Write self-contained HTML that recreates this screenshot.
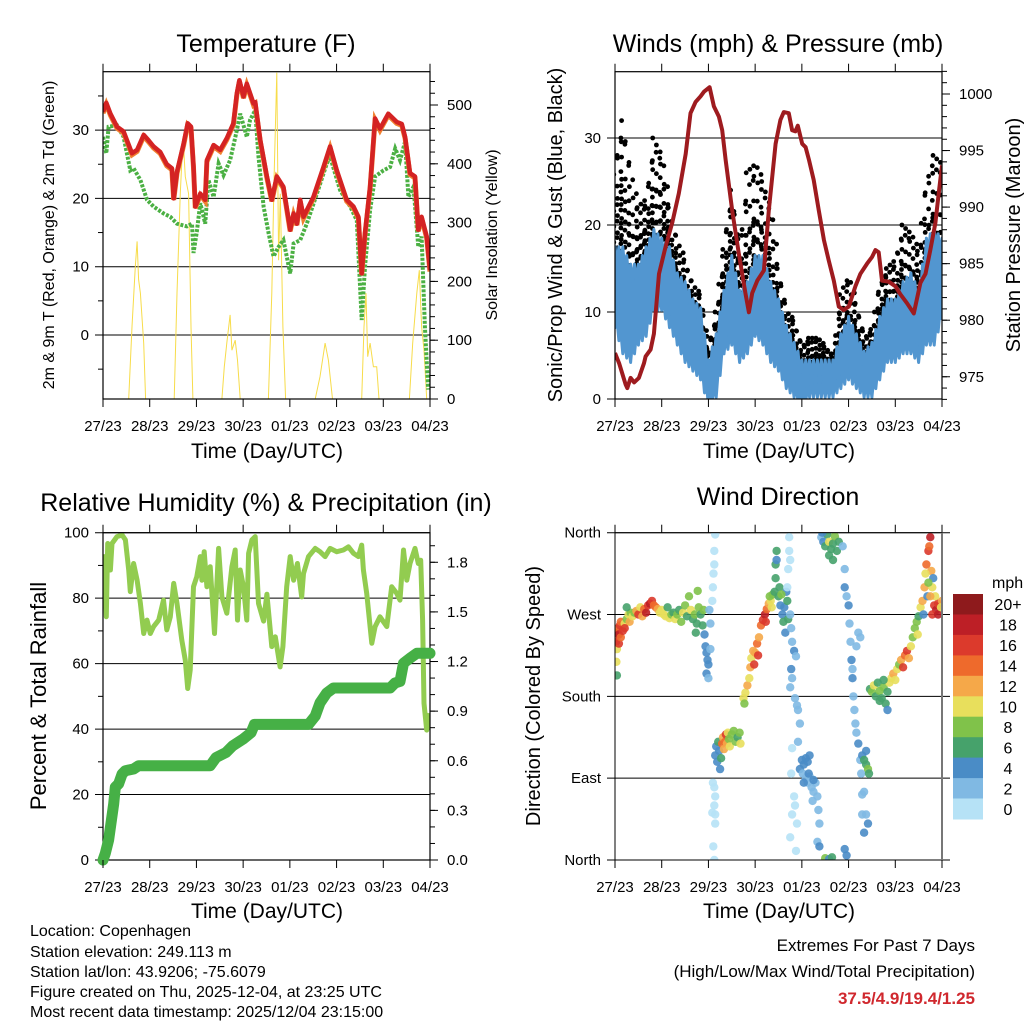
<!DOCTYPE html>
<html><head><meta charset="utf-8">
<style>
html,body{margin:0;padding:0;background:#fff;}
svg{display:block;font-family:"Liberation Sans",sans-serif;}
</style></head>
<body>
<svg id="chart" width="1024" height="1024" viewBox="0 0 1024 1024" xmlns="http://www.w3.org/2000/svg">
<rect x="0" y="0" width="1024" height="1024" fill="#fff"/>
<defs>
<clipPath id="c1"><rect x="103" y="71.7" width="327" height="327.3"/></clipPath>
<clipPath id="c2"><rect x="615" y="71.7" width="327" height="327.3"/></clipPath>
<clipPath id="c3"><rect x="103" y="532.7" width="327" height="327.3"/></clipPath>
<clipPath id="c4"><rect x="615" y="532.7" width="327" height="327.3"/></clipPath>
</defs>
<g id="layer"></g>
<text x="266" y="52" font-size="25" text-anchor="middle">Temperature (F)</text>
<text x="778" y="52" font-size="25" text-anchor="middle">Winds (mph) &amp; Pressure (mb)</text>
<text x="266" y="511" font-size="25" text-anchor="middle">Relative Humidity (%) &amp; Precipitation (in)</text>
<text x="778" y="505" font-size="25" text-anchor="middle">Wind Direction</text>
<text x="267" y="458" font-size="21" text-anchor="middle">Time (Day/UTC)</text>
<text x="779" y="458" font-size="21" text-anchor="middle">Time (Day/UTC)</text>
<text x="267" y="918" font-size="21" text-anchor="middle">Time (Day/UTC)</text>
<text x="779" y="918" font-size="21" text-anchor="middle">Time (Day/UTC)</text>
<text transform="translate(54,235) rotate(-90)" font-size="16" text-anchor="middle">2m &amp; 9m T (Red, Orange) &amp; 2m Td (Green)</text>
<text transform="translate(497,235) rotate(-90)" font-size="16" text-anchor="middle">Solar Insolation (Yellow)</text>
<text transform="translate(562,235) rotate(-90)" font-size="20" text-anchor="middle">Sonic/Prop Wind &amp; Gust (Blue, Black)</text>
<text transform="translate(1020,235) rotate(-90)" font-size="20" text-anchor="middle">Station Pressure (Maroon)</text>
<text transform="translate(46,696) rotate(-90)" font-size="22" text-anchor="middle">Percent &amp; Total Rainfall</text>
<text transform="translate(540,696) rotate(-90)" font-size="20" text-anchor="middle">Direction (Colored By Speed)</text>
<g font-size="16">
<text x="30" y="936">Location: Copenhagen</text>
<text x="30" y="957">Station elevation: 249.113 m</text>
<text x="30" y="977">Station lat/lon: 43.9206; -75.6079</text>
<text x="30" y="997">Figure created on Thu, 2025-12-04, at 23:25 UTC</text>
<text x="30" y="1017">Most recent data timestamp: 2025/12/04 23:15:00</text>
</g>
<g text-anchor="end">
<text x="975" y="951" font-size="17">Extremes For Past 7 Days</text>
<text x="975" y="977" font-size="17">(High/Low/Max Wind/Total Precipitation)</text>
<text x="975" y="1004" font-size="17" font-weight="bold" fill="#d0282e">37.5/4.9/19.4/1.25</text>
</g>
</svg>
<script>
// ---------- DATA ----------
const dayLabels=['27/23','28/23','29/23','30/23','01/23','02/23','03/23','04/23'];
const tempHours=[0,1.7,3.8,7.2,10.6,14.9,17.5,20.9,23.4,26,29.4,32.8,35.4,36.3,38,41.4,43.5,45.2,46.5,47.4,50,52.5,53.4,56.8,60.2,63.6,67,68.8,70.1,72.2,73.9,77.3,78.2,80.8,84.2,86.7,89.3,92.7,96.2,97.9,99.6,101.3,103,108.1,113.3,116.7,120.1,125.2,128.7,131.2,132.9,134.6,137.2,139.8,142.3,146.6,150.9,153.5,155.2,157.7,160.3,162,163.7,166.3,168];
const tempValues=[32.7,34,32.4,30.5,29.8,26.6,27.1,29.3,28.5,27.6,26.8,25,24.4,20,23.9,28,31,30.5,24.7,18.8,20.7,19.8,25.6,27.8,27.1,28.8,31,35.4,37.3,34.9,36.8,33.9,34.1,28.5,23.2,19.8,23.2,21.7,15.4,17.8,16.3,19.8,17.3,20.2,24.6,27.6,24.1,19.8,18.8,17.3,9,14.9,21.7,31.7,30.2,32.4,31.2,30.9,29,23.7,23.2,15.4,17.3,14.4,9.5];
const dewHours=[0,1.7,2.9,7.2,10.6,14,15.7,19.2,22.6,26,31.1,34.6,38,43.1,45.7,46.5,48.2,50,52.5,54.2,56.8,59.4,61.9,65.3,68.8,70.5,73.9,75.6,78.2,79.9,82.5,85.1,87.6,90.2,92.7,96.2,97.9,101.3,104.7,109.9,115,116.7,121.8,127,130.4,132.9,134.6,137.2,139.8,144.1,147.5,150.1,152.6,155.2,156.9,159.5,162,163.7,165.4,167.1];
const dewValues=[29,26.6,30.5,30.7,29,24.1,24.4,22.7,19.8,18.8,17.8,17.3,16.3,15.9,16.3,12,15.1,19.3,16.3,22.7,20.2,25.1,23.4,25.6,30,32.4,29,31.5,32.9,26.1,18.8,14.9,11.5,12.9,13.9,9,13.4,13.9,16.3,20.7,25.1,26.1,21.2,18.8,16.8,2.2,10,18.3,23.2,24.1,24.6,27.3,25.6,28.3,20.2,21.7,12.9,14.4,1.2,-8.0];
const solarHours=[0,13.2,14.9,16.6,17.5,18.3,19.2,20.9,21.9,36.6,38,39.7,41.1,42.3,44,45.2,46.2,61.1,62.3,63.6,65.3,66.2,67.9,69.1,70.5,85,86.7,87.9,89.3,90.2,91.1,92.4,93.8,109,111.5,114.1,115.8,117.9,132.9,134.1,135.1,136,137.2,138.9,140.6,141.8,157.4,159.1,161.2,162.5,163.7,164.9,166.3,168];
const solarValues=[0,0,123,225,268,203,180,95,0,0,180,350,446,378,349,123,0,0,55,95,143,83,100,66,0,0,180,378,555,236,349,123,0,0,38,95,66,0,0,123,180,72,95,55,55,0,0,95,180,219,123,83,0,0];
const presHours=[0,2.1,5.5,6.3,8,9.8,12.3,14.9,15.7,18.3,20,22.6,26,29.4,32.8,36.3,38.8,41.4,44,45.7,48.6,50.8,53.4,55.1,56.8,60.2,63.6,67,68.8,70.5,73.1,76.5,79,82.5,85,86.7,89.3,91,92.7,93.9,96.2,97.9,99.6,102.1,104.7,107.3,109.8,112.4,115,117.5,120.1,123.5,126.1,129.5,132.1,133.8,135.5,137.2,140.6,144.1,146.6,150,153.5,156.9,159.5,162,164.6,166.3,168];
const presValues=[977.1,976.2,974.3,974,974.9,974.5,974.9,976.2,976.8,977.4,978.8,984.1,986.5,988.6,991.2,994.7,998.3,999.3,999.8,1000.2,1000.6,998.9,998,996.8,994.2,989.7,985.9,982.4,980.7,982.4,983.5,984.4,989.7,995.6,997.7,998.4,998.3,996.8,996.7,997.2,995.6,995.3,994.2,992.4,989.7,987.1,985.3,983.5,981.2,980.9,981.2,983,984.1,985,985.6,986.2,986,983.5,983.4,983,982.3,981.5,980.6,983.3,984.1,986.2,988.6,991.2,993.7];
const windStepHours=4;
const windLo=[9,6,5,7,8,11,11,9,7,5,4,3,0,1,6,7,5,6,8,7,5,4,2,1,0,1,1,1,1,2,3,2,1,1,3,5,5,6,6,5,7,7,10];
const windHi=[17,17,15,15,17,19,18,17,14,13,11,10,4,7,12,16,12,13,16,16,13,11,8,6,4,4,4,4,4,7,9,7,5,6,9,11,11,13,14,12,18,19,18];
const gustLo=[15,17,10,14,15,17,18,14,11,9,7,6,1,3,10,13,9,10,13,12,9,7,5,3,2,2,3,2,2,4,5,4,3,3,6,9,8,10,10,9,12,13,14];
const gustHi=[27,32,26,22,23,30,28,22,18,16,13,12,6,10,18,24,17,26,27,25,22,15,10,9,6,7,7,6,5,12,14,11,7,8,13,15,16,20,19,17,25,28,27];
const rhHours=[0,0.7,1.7,2.4,3.8,4.6,7.2,9.8,11.5,13.2,14,15.7,17.5,19.2,20.9,22.6,24.3,26,28.6,31.1,32.8,34.6,36.3,38,40.5,42.3,43.5,44.8,46.5,48.2,50,50.8,52,53.4,55.1,57.3,59.4,61.1,63.6,66.2,67.9,69.1,70.5,72.2,73.9,74.8,76.5,78.2,79.9,82.5,84.2,86.7,88.5,91,92.4,94.4,96.2,97.9,99.9,102.1,103,105.6,109,111.5,114.1,116.7,120.1,123.5,126.1,128.7,131.2,132.9,133.8,135.5,138.1,139.8,142.3,145.8,148.3,150.9,152.6,154.4,156.1,157.7,160.3,162,163.2,164.2,164.9,166.3,168];
const rhValues=[83,92.7,74.3,96.7,88.6,96.7,98.8,99.3,97.8,88.6,82,90.6,85.5,78.4,69.2,73.3,69.2,71.3,73.3,79.4,70.3,74.3,84.5,78.4,67.2,61,52.4,58,83.5,86.6,92.7,85.5,94.2,83.5,89.6,69.2,95.2,80.4,75.4,89.6,94.7,73.3,88.6,83.5,73.3,93.7,97.8,98.8,78.4,73,81.2,65.2,68.2,59,65.2,83.5,92.7,85.5,90.6,80.4,87.5,92.7,95.2,94.2,92.7,95.2,94.2,94.7,95.7,93.7,92.7,96.2,88.6,81.5,66.2,71.3,74.3,71.3,83.5,81.5,79.4,94.7,85.5,90.6,95.2,90.6,91.6,73.3,47.9,39.7,44.8];
const rainHours=[0,1.2,2.9,5.5,6.3,8,9.8,11.5,15.7,18.3,55.1,58.1,63.2,66.6,71.8,76.1,77.8,105.6,109,111.5,115,118.4,147.5,150,152.6,154.4,157.7,161.2,168];
const rainValues=[0,0.04,0.12,0.34,0.44,0.46,0.52,0.54,0.55,0.57,0.57,0.62,0.65,0.69,0.73,0.77,0.82,0.82,0.87,0.95,1.01,1.04,1.04,1.07,1.08,1.19,1.22,1.25,1.25];
const dirHours=[0,0.5,1,1.5,2,2.5,3,1,2,3,4,5,6,7,7.5,8,0.7,1,5,6,
9,10,11,12,13,14,15,16,17,18,19,20,21,22,23,24,25,26,27,28,29,30,
31,32,33,34,35,36,37,38,39,40,41,42,43,42.5,41.5,44,45,45.5,
46,46.5,47,47.5,48,47,48,49,49,48.5,50,50.3,50.6,51,51,51.5,
50.3,51,51.5,51,50,51.5,50.5,51,51.5,
51.5,52,52.5,53,53.5,54,54.5,55,55.5,56,56.5,57,57.5,58,58.5,59,60,61,62,63,64,64.5,
66,66.5,67,68,69,69.5,70,71,71.5,72,73,73.5,74,75,76,77,77.5,78,79,80,79.5,80.5,
81,82,82.5,82.5,83,83,84,85,86,86.5,87,88,88.5,89,87.5,84.5,85.5,
90,90.5,91,92,93,90.5,91,92.5,90,93.5,94,95,94,91,90.5,92,92.5,91,93.5,90,93,88.5,89,89.5,89.5,90,
95,96,97,98,99,100,96.5,98,99,100,101,102,103,102,104,104.5,105,104,105,97,99.5,101.5,
106,107,108,109,110,111,112,113,114,115,110,112,106.5,108,110,111.5,
117,118,118,119,120,120.5,121,121.5,122,122.5,123,123.5,124,125,126,126.5,127,127,128,118,119,122,124,125,126,
127,128,129,130,130.5,128,129,130,129,
131,132,133,134,135,136,137,138,139,140,141,142,143,144,138,136,140,
145,146,147,148,149,150,151,152,153,154,155,156,155.5,
157,158,159,160,161,162,161.5,162.5,163,160.5,159.5,164,165,166,167,168,163,158.5,164.5,166,167.5,163.5,161,162];
const dirDegrees=[245,240,250,255,248,258,262,232,238,245,252,260,265,270,262,272,218,203,255,278,
268,272,274,270,278,268,276,272,280,282,285,280,278,276,272,275,270,268,278,266,270,272,
265,270,275,262,272,280,268,290,275,265,270,260,278,296,250,270,258,275,
248,235,228,220,215,205,200,232,260,275,285,300,315,325,340,358,
85,80,70,60,52,50,15,0,40,
115,125,108,130,120,100,112,128,135,122,130,138,128,140,133,125,138,142,130,135,140,128,
178,172,184,192,200,212,222,230,215,228,238,225,245,258,264,270,262,276,282,285,290,278,
292,295,310,325,340,330,290,280,270,262,278,295,285,265,250,300,292,
270,255,240,230,224,210,200,178,190,170,165,150,130,123,95,70,60,50,40,25,10,300,320,340,355,330,
100,110,105,112,108,115,95,90,85,92,80,75,85,88,70,55,40,20,15,85,95,65,
355,350,345,358,350,342,348,356,340,350,335,330,360,2,1,3,
345,320,300,290,280,260,240,220,200,180,165,150,140,128,110,95,72,50,30,12,5,210,235,250,245,
115,110,105,100,95,75,50,40,120,
188,185,192,180,195,186,178,190,172,185,195,200,205,198,198,175,165,
210,215,220,212,225,230,222,235,245,255,262,268,248,
278,285,300,325,340,355,345,318,300,290,315,280,275,282,280,285,270,270,290,270,278,310,305,290];
const dirSpeeds=[12,16,16,14,18,16,14,10,16,14,16,10,8,10,12,8,10,6,16,6,
10,8,12,16,10,12,14,18,16,18,16,14,14,12,10,10,10,10,6,10,8,6,
10,8,6,8,10,8,6,8,10,6,8,6,8,8,6,6,6,8,
4,4,4,4,4,4,2,2,2,2,0,0,0,0,0,0,
0,0,0,0,0,0,0,0,0,
4,4,4,6,4,4,6,14,12,12,14,16,12,10,8,10,8,8,8,6,8,10,
10,8,10,12,10,12,10,12,16,12,14,16,12,14,16,18,16,14,12,10,8,10,
8,6,6,6,6,4,6,4,4,6,4,4,6,6,4,6,8,
2,2,2,4,2,4,2,2,2,2,2,2,2,0,0,0,0,0,0,0,0,0,0,0,0,0,
4,4,4,4,4,4,2,2,2,2,2,2,2,4,2,2,2,2,4,4,4,2,
2,4,6,6,10,6,6,8,6,6,6,6,4,8,4,6,
2,2,4,2,4,2,2,4,4,2,2,2,2,4,2,2,2,2,4,4,4,2,2,2,2,
4,6,6,8,6,2,2,4,4,
6,8,10,6,6,8,6,8,6,6,10,10,12,10,6,6,4,
10,8,12,16,14,16,12,10,8,8,8,6,10,
10,12,12,14,16,18,14,12,10,4,10,16,18,16,16,12,16,4,10,18,10,4,8,12];
const colorLabels=['20+','18','16','14','12','10','8','6','4','2','0'];
const colorFills=['#8e1a1c','#bd1f26','#dc3a2c','#ee6a2c','#f5a849','#e8df5c','#80c24a','#46a26b','#4a8cc6','#80b9e3','#b6e2f6'];

// ---------- HELPERS ----------
const NS='http://www.w3.org/2000/svg';
const layer=document.getElementById('layer');
function mk(tag,parent){const e=document.createElementNS(NS,tag);(parent||layer).appendChild(e);return e;}
function line(x1,y1,x2,y2,stroke,w,parent){const e=mk('line',parent);e.setAttribute('x1',x1);e.setAttribute('y1',y1);e.setAttribute('x2',x2);e.setAttribute('y2',y2);e.setAttribute('stroke',stroke);e.setAttribute('stroke-width',w);return e;}
function txt(x,y,s,size,anchor,parent){const e=mk('text',parent);e.setAttribute('x',x);e.setAttribute('y',y);e.setAttribute('font-size',size);e.setAttribute('text-anchor',anchor);e.textContent=s;return e;}
function poly(xs,ys,fx,fy){let d='';for(let i=0;i<xs.length;i++){d+=(i?'L':'M')+fx(xs[i]).toFixed(1)+','+fy(ys[i]).toFixed(1);}return d;}
function interp(arr,t){const i=Math.floor(t),f=t-i;if(i>=arr.length-1)return arr[arr.length-1];return arr[i]*(1-f)+arr[i+1]*f;}

const P=[
 {x0:103,x1:430,y0:71.7,y1:399},
 {x0:615,x1:942,y0:71.7,y1:399},
 {x0:103,x1:430,y0:532.7,y1:860},
 {x0:615,x1:942,y0:532.7,y1:860}
];
function xs(p){return h=>p.x0+h/168*(p.x1-p.x0);}

function timeAxis(p,idx){
 const g=mk('g');
 
 
 const fx=xs(p);
 dayLabels.forEach((lab,i)=>{
  const x=fx(i*24);
  line(x,p.y1,x,p.y1+8,'#000',1,g);
  line(x,p.y0-8,x,p.y0,'#000',1,g);
  const t=txt(x,p.y1+32,lab,15,'middle',g);
  
  
 });
}
function frame(p,idx){
 const r=mk('rect');
 r.setAttribute('x',p.x0);r.setAttribute('y',p.y0);r.setAttribute('width',p.x1-p.x0);r.setAttribute('height',p.y1-p.y0);
 r.setAttribute('fill','none');r.setAttribute('stroke','#000');r.setAttribute('stroke-width','1.2');
 
 
}
function leftAxis(p,vals,labels,fy,minor,name){
 const g=mk('g');
 
 
 vals.forEach((v,i)=>{const y=fy(v);line(p.x0-8,y,p.x1,y,'#000',1,g);txt(p.x0-14,y+5,labels[i],15,'end',g);});
 minor.forEach(v=>{const y=fy(v);line(p.x0-5,y,p.x0,y,'#000',1,g);});
}
function rightAxis(p,vals,labels,fy,minor,name){
 const g=mk('g');
 
 
 vals.forEach((v,i)=>{const y=fy(v);line(p.x1,y,p.x1+8,y,'#000',1,g);txt(p.x1+17,y+5,labels[i],15,'start',g);});
 minor.forEach(v=>{const y=fy(v);if(y>=p.y0-0.5&&y<=p.y1+0.5)line(p.x1,y,p.x1+5,y,'#000',1,g);});
}
function range(a,b,s){const r=[];for(let v=a;v<=b+1e-9;v+=s)r.push(+v.toFixed(3));return r;}

// ---------- PANEL 1: TEMPERATURE ----------
{
 const p=P[0],fx=xs(p);
 const fyT=v=>335-v*6.83, fyS=s=>399-s*0.588;
 leftAxis(p,[30,20,10,0],['30','20','10','0'],fyT,[35,25,15,5,-5],'temp-left-axis');
 rightAxis(p,[0,100,200,300,400,500],['0','100','200','300','400','500'],fyS,range(0,560,20),'solar-right-axis');
 const g=mk('g');g.setAttribute('clip-path','url(#c1)');
 
 
 const s=mk('path',g);s.setAttribute('d',poly(solarHours,solarValues,fx,fyS));s.setAttribute('fill','none');s.setAttribute('stroke','#f7dc4a');s.setAttribute('stroke-width','1');
 
 
 const d=mk('path',g);d.setAttribute('d',poly(dewHours,dewValues,fx,fyT));d.setAttribute('fill','none');d.setAttribute('stroke','#4bb043');d.setAttribute('stroke-width','4');d.setAttribute('stroke-dasharray','3 1.5');
 
 
 const o=mk('path',g);o.setAttribute('d',poly(tempHours,tempValues,fx,v=>fyT(v)+1.5));o.setAttribute('fill','none');o.setAttribute('stroke','#f08030');o.setAttribute('stroke-width','5');
 
 
 const t=mk('path',g);t.setAttribute('d',poly(tempHours,tempValues,fx,fyT));t.setAttribute('fill','none');t.setAttribute('stroke','#d42323');t.setAttribute('stroke-width','4.5');t.setAttribute('stroke-linejoin','round');
 
 
 frame(p,1);timeAxis(p,1);
}
// ---------- PANEL 2: WINDS ----------
{
 const p=P[1],fx=xs(p);
 const fyW=v=>399-v*8.7, fyP=v=>94+(1000-v)*11.31;
 leftAxis(p,[30,20,10,0],['30','20','10','0'],fyW,[],'wind-left-axis');
 rightAxis(p,[975,980,985,990,995,1000],['975','980','985','990','995','1000'],fyP,range(972,1002,1),'pressure-right-axis');
 const g=mk('g');g.setAttribute('clip-path','url(#c2)');
 
 
 const n=windLo.length;
 const fr=[0,0.12,0.25,0.4,0.55,0.72,0.9,1];
 const gg=mk('g',g);
 
 
 let k=0;
 for(let t=0;t<=n-1;t+=0.2){
  const lo=interp(gustLo,t),hi=interp(gustHi,t);
  const h=t*windStepHours;
  fr.forEach((f,j)=>{
   if(j>=5 && (k+j)%2) return;
   const c=mk('circle',gg);
   c.setAttribute('cx',(fx(h)+((k*3+j*5)%5-2)*0.6).toFixed(1));
   c.setAttribute('cy',fyW(lo+(hi-lo)*f).toFixed(1));
   c.setAttribute('r','2.4');
   c.setAttribute('fill','#000');
   
   
  });
  k++;
 }
 const wp=[];const wl=[];const wt=[];
 for(let t=0;t<=n-1;t+=0.25){wt.push(t*windStepHours);wp.push(interp(windHi,t)+((Math.round(t*4))%2?-1.5:0.5));wl.push(interp(windLo,t)+((Math.round(t*4))%2?1:-0.8));}
 const d=poly(wt,wp,fx,fyW)+'L'+poly(wt.slice().reverse(),wl.slice().reverse(),fx,fyW).slice(1)+'Z';
 const wb=mk('path',g);wb.setAttribute('d',d);wb.setAttribute('fill','#5296d0');wb.setAttribute('stroke','#5296d0');wb.setAttribute('stroke-width','3');wb.setAttribute('stroke-linejoin','round');
 
 
 const pr=mk('path',g);pr.setAttribute('d',poly(presHours,presValues,fx,fyP));pr.setAttribute('fill','none');pr.setAttribute('stroke','#9e1b1f');pr.setAttribute('stroke-width','4');pr.setAttribute('stroke-linejoin','round');
 
 
 frame(p,2);timeAxis(p,2);
}
// ---------- PANEL 3: RH & RAIN ----------
{
 const p=P[2],fx=xs(p);
 const fyR=v=>860-v*3.273, fyI=v=>860-v*165.4;
 leftAxis(p,[100,80,60,40,20,0],['100','80','60','40','20','0'],fyR,[90,70,50,30,10],'humidity-left-axis');
 rightAxis(p,[0,0.3,0.6,0.9,1.2,1.5,1.8],['0.0','0.3','0.6','0.9','1.2','1.5','1.8'],fyI,range(0,1.9,0.1),'rain-right-axis');
 const g=mk('g');g.setAttribute('clip-path','url(#c3)');
 
 
 const rh=mk('path',g);rh.setAttribute('d',poly(rhHours,rhValues,fx,fyR));rh.setAttribute('fill','none');rh.setAttribute('stroke','#92cc50');rh.setAttribute('stroke-width','5');rh.setAttribute('stroke-linejoin','round');
 
 
 frame(p,3);
 const rn=mk('path');rn.setAttribute('d',poly(rainHours,rainValues,fx,fyI));rn.setAttribute('fill','none');rn.setAttribute('stroke','#46b046');rn.setAttribute('stroke-width','11');rn.setAttribute('stroke-linejoin','round');rn.setAttribute('stroke-linecap','round');
 
 
 timeAxis(p,3);
}
// ---------- PANEL 4: WIND DIRECTION ----------
{
 const p=P[3],fx=xs(p);
 const fyD=d=>860-d*(327.3/360);
 const g0=mk('g');
 
 
 [360,270,180,90,0].forEach((d,i)=>{const y=fyD(d);line(p.x0-8,y,p.x1+8,y,'#000',1,g0);txt(p.x0-14,y+5,['North','West','South','East','North'][i],15,'end',g0);});
 const g=mk('g');g.setAttribute('clip-path','url(#c4)');
 
 
 for(let i=0;i<dirHours.length;i++){
  const c=mk('circle',g);
  const idx=Math.max(0,Math.min(10,10-Math.floor(dirSpeeds[i]/2)));
  c.setAttribute('cx',fx(dirHours[i]).toFixed(1));c.setAttribute('cy',fyD(dirDegrees[i]).toFixed(1));c.setAttribute('r','4.2');
  c.setAttribute('fill',colorFills[idx]);c.setAttribute('fill-opacity','0.9');
  
  
 }
 const r=mk('rect');r.setAttribute('x',p.x0);r.setAttribute('y',p.y0);r.setAttribute('width',p.x1-p.x0);r.setAttribute('height',p.y1-p.y0);r.setAttribute('fill','none');r.setAttribute('stroke','#000');r.setAttribute('stroke-width','1');
 
 
 line(p.x1,p.y0,p.x1,p.y1,'#777',2);
 timeAxis(p,4);
 const cb=mk('g');
 
 
 const by0=594,bh=(819-594)/colorLabels.length;
 colorLabels.forEach((lab,i)=>{
  const b=mk('rect',cb);b.setAttribute('x',953);b.setAttribute('y',(by0+i*bh).toFixed(1));b.setAttribute('width',30);b.setAttribute('height',(bh+0.5).toFixed(1));b.setAttribute('fill',colorFills[i]);
  
  
  const t=txt(1008,by0+i*bh+bh/2+6,lab,16,'middle',cb);
  
  
 });
 const u=txt(992,588,'mph',16,'start',cb);
 
 
}
</script>
</body></html>
